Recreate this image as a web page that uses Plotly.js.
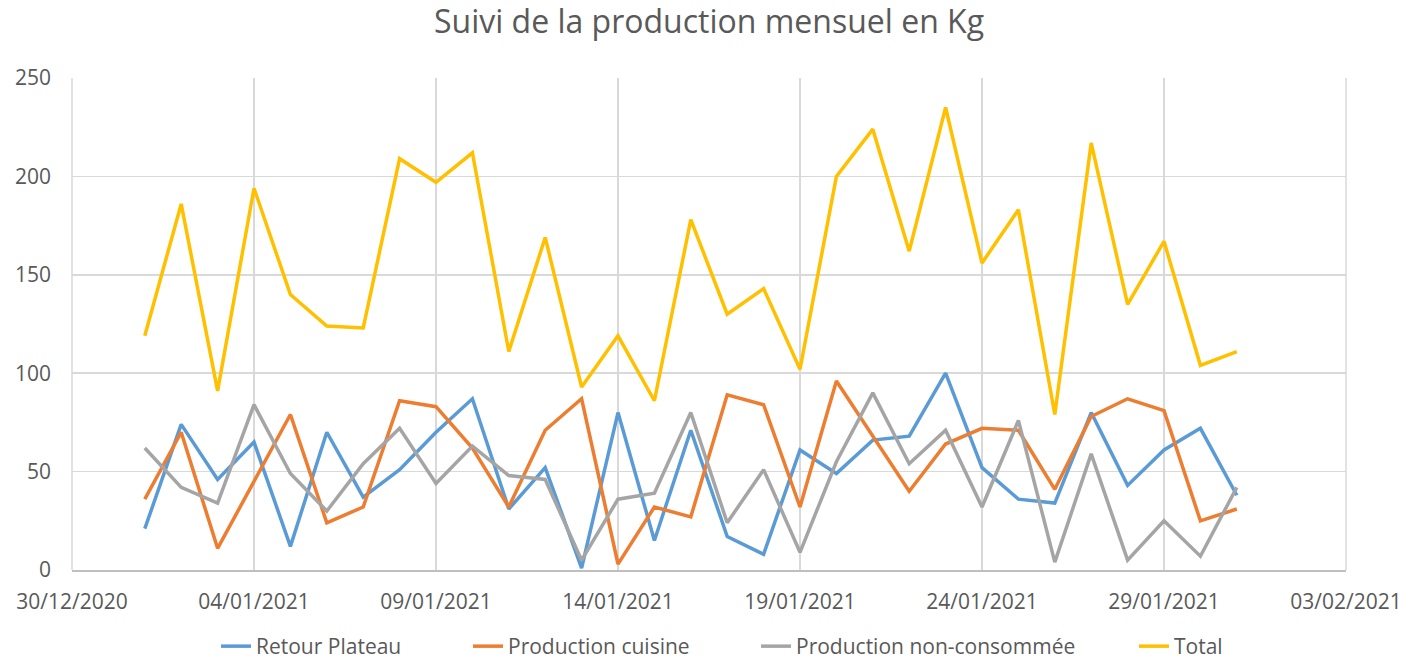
<!DOCTYPE html>
<html>
<head>
<meta charset="utf-8">
<script src="https://cdn.plot.ly/plotly-3.0.1.min.js"></script>
<style>html,body{margin:0;padding:0;background:#fff;}#chart{width:1407px;height:667px;}</style>
</head>
<body>
<div id="chart"></div>
<script>
const dates = [
  "2021-01-01","2021-01-02","2021-01-03","2021-01-04","2021-01-05","2021-01-06","2021-01-07",
  "2021-01-08","2021-01-09","2021-01-10","2021-01-11","2021-01-12","2021-01-13","2021-01-14",
  "2021-01-15","2021-01-16","2021-01-17","2021-01-18","2021-01-19","2021-01-20","2021-01-21",
  "2021-01-22","2021-01-23","2021-01-24","2021-01-25","2021-01-26","2021-01-27","2021-01-28",
  "2021-01-29","2021-01-30","2021-01-31"
];
const retourPlateau = [21,74,46,65,12,70,37,51,70,87,31,52,1,80,15,71,17,8,61,49,66,68,100,52,36,34,80,43,61,72,38];
const productionCuisine = [36,70,11,45,79,24,32,86,83,62,32,71,87,3,32,27,89,84,32,96,68,40,64,72,71,41,78,87,81,25,31];
const productionNonConsommee = [62,42,34,84,49,30,54,72,44,63,48,46,5,36,39,80,24,51,9,55,90,54,71,32,76,4,59,5,25,7,42];
const total = [119,186,91,194,140,124,123,209,197,212,111,169,93,119,86,178,130,143,102,200,224,162,235,156,183,79,217,135,167,104,111];

const seriesNames = ["Retour Plateau","Production cuisine","Production non-consommée","Total"];
const seriesColors = ["#5b9bd5","#ed7d31","#a5a5a5","#ffc000"];
const seriesValues = [retourPlateau, productionCuisine, productionNonConsommee, total];
const legendIds = ["legend","legend2","legend3","legend4"];
const legendX = [216, 468, 756, 1134];

const FONT = "Open Sans, Calibri, sans-serif";
const traces = seriesValues.map((vals, i) => ({
  x: dates,
  y: vals,
  name: seriesNames[i],
  type: "scatter",
  mode: "lines",
  legend: legendIds[i],
  line: {color: seriesColors[i], width: 3.5}
}));

const layout = {
  width: 1407,
  height: 667,
  margin: {l: 72, r: 61, t: 78, b: 97},
  paper_bgcolor: "#ffffff",
  plot_bgcolor: "#ffffff",
  title: {
    text: "Suivi de la production mensuel en Kg",
    font: {family: FONT, size: 32, color: "#595959"},
    xref: "paper", x: 0.5, xanchor: "center", y: 0.967, yanchor: "middle"
  },
  font: {family: FONT, color: "#595959"},
  xaxis: {
    type: "date",
    range: ["2020-12-30", "2021-02-03"],
    tick0: "2020-12-30",
    dtick: 5 * 86400000,
    tickformat: "%d/%m/%Y",
    tickfont: {family: FONT, size: 21, color: "#595959"},
    showgrid: true,
    gridcolor: "#d9d9d9",
    gridwidth: 1.5,
    showline: true,
    linecolor: "#bfbfbf",
    linewidth: 1.5,
    zeroline: false,
    ticks: "",
    ticklabelstandoff: 12,
    fixedrange: true
  },
  yaxis: {
    range: [0, 250],
    dtick: 50,
    tickfont: {family: FONT, size: 21, color: "#595959"},
    showgrid: true,
    gridcolor: "#d9d9d9",
    gridwidth: 1.5,
    zeroline: false,
    showline: false,
    ticks: "",
    ticklabelstandoff: 20,
    fixedrange: true
  },
  shapes: [
    {type: "line", xref: "paper", yref: "paper", x0: 0, x1: 0, y0: 0, y1: 1, line: {color: "#d9d9d9", width: 1.5}},
    {type: "line", xref: "paper", yref: "paper", x0: 1, x1: 1, y0: 0, y1: 1, line: {color: "#d9d9d9", width: 1.5}}
  ],
  showlegend: true
};

legendIds.forEach((id, i) => {
  layout[id] = {
    orientation: "h",
    xref: "container", yref: "container",
    x: legendX[i] / 1407, xanchor: "left",
    y: -0.006, yanchor: "bottom",
    font: {family: FONT, size: 21, color: "#595959"},
    bgcolor: "rgba(0,0,0,0)"
  };
});

Plotly.newPlot("chart", traces, layout, {displayModeBar: false, staticPlot: true});
</script>
</body>
</html>
